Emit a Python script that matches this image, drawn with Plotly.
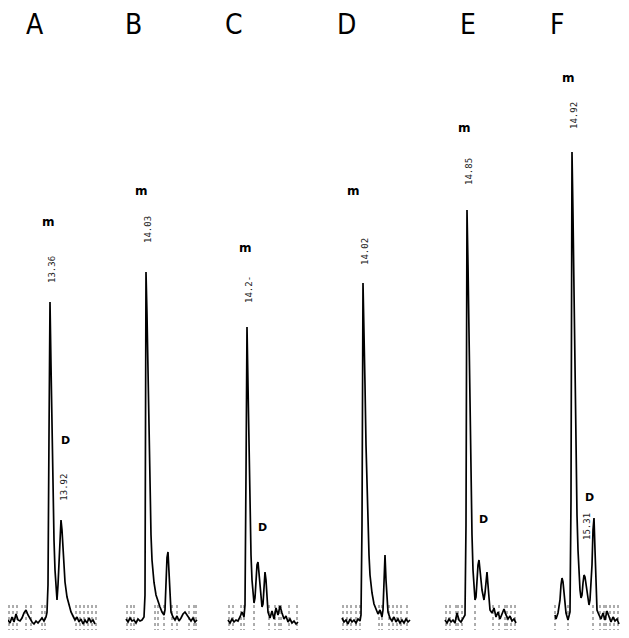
import plotly.graph_objects as go

# ---------------- data (retention time in min, detector signal in arbitrary units) -------------
panel_labels = ["A", "B", "C", "D", "E", "F"]

A_time = [11.26, 11.36, 11.46, 11.56, 11.66, 11.76, 11.86, 11.96, 12.06, 12.16, 12.26, 12.36, 12.46,
          12.56, 12.66, 12.76, 12.86, 12.96, 13.06, 13.16, 13.21, 13.26, 13.31, 13.36, 13.41, 13.46,
          13.51, 13.56, 13.61, 13.66, 13.71, 13.76, 13.81, 13.86, 13.91, 13.96, 14.01, 14.06, 14.11,
          14.21, 14.31, 14.41, 14.51, 14.61, 14.71, 14.81, 14.91, 15.01, 15.11, 15.21, 15.31, 15.41,
          15.51, 15.61]
A_signal = [1.0, 0.4, 1.6, 0.6, 2.2, 1.0, 0.8, 1.4, 2.4, 3.0, 2.0, 1.2, 0.6,
            0.2, 0.8, 0.4, 1.0, 1.4, 0.8, 1.6, 2.5, 8.0, 38.0, 64.6, 52.0, 38.0,
            26.0, 17.0, 11.0, 7.0, 5.0, 8.0, 13.0, 19.0, 21.0, 19.0, 15.0, 11.5, 8.6,
            5.6, 3.8, 2.6, 1.8, 1.0, 1.6, 0.6, 1.2, 0.2, 1.0, 0.4, 1.4, 0.6,
            1.0, 0.2]
A_marks = [11.31, 11.51, 11.71, 12.16, 12.41, 12.96, 13.11, 14.66, 14.86, 15.06, 15.26, 15.46, 15.66]

B_time = [13.03, 13.13, 13.23, 13.33, 13.43, 13.53, 13.63, 13.73, 13.83, 13.93, 13.98, 14.03, 14.08,
          14.13, 14.18, 14.23, 14.28, 14.33, 14.43, 14.53, 14.63, 14.73, 14.83, 14.93, 14.98, 15.03,
          15.08, 15.13, 15.18, 15.23, 15.28, 15.38, 15.48, 15.58, 15.68, 15.78, 15.88, 15.98, 16.08,
          16.18, 16.28, 16.38, 16.48, 16.58]
B_signal = [1.2, 0.6, 1.4, 0.8, 1.0, 0.4, 1.2, 0.8, 1.0, 1.6, 6.0, 70.6, 62.0,
            50.0, 38.0, 27.0, 18.0, 13.0, 8.5, 6.0, 4.6, 3.6, 2.6, 2.0, 3.0, 8.0,
            13.5, 14.6, 10.0, 5.0, 2.6, 1.6, 1.0, 1.8, 0.8, 1.4, 2.2, 2.6, 2.0,
            1.2, 0.8, 1.4, 0.6, 1.0]
B_marks = [13.08, 13.28, 13.43, 14.48, 14.63, 14.93, 15.33, 15.58, 16.18, 16.43, 16.53]

C_time = [13.25, 13.35, 13.45, 13.55, 13.65, 13.75, 13.85, 13.95, 14.05, 14.10, 14.15, 14.20, 14.25,
          14.30, 14.35, 14.40, 14.45, 14.50, 14.55, 14.60, 14.65, 14.70, 14.75, 14.80, 14.85, 14.90,
          14.95, 15.00, 15.05, 15.10, 15.15, 15.20, 15.25, 15.35, 15.45, 15.55, 15.65, 15.75, 15.85,
          15.95, 16.05, 16.15, 16.25, 16.35, 16.45, 16.55, 16.65, 16.75]
C_signal = [1.0, 0.4, 1.2, 0.6, 1.0, 0.8, 1.6, 2.6, 1.6, 4.0, 30.0, 59.6, 48.0,
            34.0, 22.0, 14.0, 9.0, 6.0, 4.4, 5.4, 9.0, 12.0, 12.6, 10.4, 7.0, 4.6,
            3.6, 4.2, 7.6, 10.6, 9.0, 5.0, 2.6, 1.4, 2.8, 1.2, 3.4, 2.0, 3.8,
            2.4, 1.2, 1.8, 0.6, 1.2, 0.4, 0.8, 0.2, 0.6]
C_marks = [13.30, 13.50, 13.90, 14.05, 14.55, 15.30, 15.60, 15.80, 15.90, 16.30, 16.70]

D_time = [12.97, 13.07, 13.17, 13.27, 13.37, 13.47, 13.57, 13.67, 13.77, 13.87, 13.92, 13.97, 14.02,
          14.07, 14.12, 14.17, 14.22, 14.27, 14.32, 14.37, 14.47, 14.57, 14.67, 14.77, 14.87, 14.97,
          15.02, 15.07, 15.12, 15.17, 15.22, 15.27, 15.37, 15.47, 15.57, 15.67, 15.77, 15.87, 15.97,
          16.07, 16.17, 16.27, 16.37]
D_signal = [1.4, 0.6, 1.0, 0.2, 1.2, 0.6, 1.0, 0.4, 1.2, 0.8, 2.0, 20.0, 68.4,
            60.0, 48.0, 36.0, 27.0, 20.0, 14.0, 10.0, 6.4, 4.2, 3.0, 2.2, 3.0, 1.6,
            3.0, 9.0, 14.0, 9.0, 5.0, 2.6, 1.4, 0.8, 1.6, 0.6, 1.2, 0.4, 1.0,
            0.4, 1.2, 0.6, 1.0]
D_marks = [13.02, 13.22, 13.42, 13.67, 13.87, 14.82, 14.97, 15.32, 15.52, 15.72, 15.92, 16.22]

E_time = [13.75, 13.85, 13.95, 14.05, 14.15, 14.25, 14.35, 14.45, 14.55, 14.65, 14.75, 14.80, 14.85,
          14.90, 14.95, 15.00, 15.05, 15.10, 15.15, 15.20, 15.25, 15.30, 15.35, 15.40, 15.45, 15.50,
          15.55, 15.60, 15.65, 15.70, 15.75, 15.80, 15.85, 15.90, 15.95, 16.00, 16.10, 16.20, 16.30,
          16.40, 16.50, 16.60, 16.70, 16.80, 16.90, 17.00, 17.10, 17.20, 17.30]
E_signal = [1.0, 0.4, 1.2, 0.6, 1.0, 0.4, 2.4, 1.0, 0.6, 1.2, 2.0, 20.0, 83.0,
            72.0, 56.0, 40.0, 27.0, 18.0, 11.0, 7.0, 5.0, 5.6, 9.0, 12.0, 13.0, 11.5,
            9.0, 7.0, 5.4, 5.0, 6.4, 9.0, 10.6, 8.0, 4.6, 3.0, 2.4, 3.4, 1.6,
            2.6, 1.2, 2.2, 3.2, 2.0, 1.2, 1.8, 0.8, 1.2, 0.4]
E_marks = [13.80, 14.00, 14.30, 14.40, 14.60, 15.25, 16.15, 16.45, 16.75, 16.85, 17.05, 17.25]

F_time = [14.41, 14.44, 14.50, 14.56, 14.59, 14.62, 14.65, 14.68, 14.74, 14.80, 14.86, 14.89, 14.92,
          14.95, 14.98, 15.01, 15.04, 15.07, 15.10, 15.13, 15.16, 15.19, 15.22, 15.25, 15.28, 15.31,
          15.34, 15.40, 15.43, 15.46, 15.52, 15.55, 15.58, 15.61, 15.64, 15.67, 15.73, 15.79, 15.85,
          15.91, 15.97, 16.03, 16.09, 16.15, 16.21, 16.27, 16.33]
F_signal = [2.0, 1.2, 2.4, 5.0, 8.0, 9.4, 8.6, 6.0, 2.4, 1.0, 2.6, 25.0, 94.6,
            82.0, 64.0, 46.0, 32.0, 22.0, 15.0, 10.0, 7.0, 5.4, 6.0, 8.4, 10.0, 9.6,
            8.0, 5.0, 4.0, 5.0, 12.0, 19.0, 21.4, 15.0, 6.0, 3.0, 2.0, 1.2, 2.4,
            1.0, 2.8, 1.6, 0.6, 1.6, 0.8, 1.2, 0.2]
F_marks = [14.41, 14.80, 15.55, 15.76, 15.88, 15.94, 16.06, 16.18, 16.30]

main_peak_time = [13.36, 14.03, 14.20, 14.02, 14.85, 14.92]
main_peak_label = ["13.36", "14.03", "14.2-", "14.02", "14.85", "14.92"]
d_peak_time = [13.92, None, 14.75, None, 15.45, 15.31]
d_peak_label = ["13.92", None, None, None, None, "15.31"]

times = [A_time, B_time, C_time, D_time, E_time, F_time]
signals = [A_signal, B_signal, C_signal, D_signal, E_signal, F_signal]
marks = [A_marks, B_marks, C_marks, D_marks, E_marks, F_marks]

# ---------------- layout ----------------------------------------------------------------------
# The page body has an 8 px default margin, so the figure is drawn 8 px in from the window edge.
OFF = 8
W, H = 613, 622
domains_px = [(8, 100), (118, 205), (222, 305), (335, 415), (440, 522), (548, 621)]
x_ranges = [(11.26, 15.86), (12.63, 16.98), (12.95, 17.10), (12.62, 16.62), (13.50, 17.60), (14.20, 16.39)]
y_range = (-1.0, 123.4)
letter_px = [(35, 25), (133, 25), (234, 25), (346, 25), (468, 25), (557, 25)]
m_level = [80.6, 86.8, 75.4, 86.8, 99.4, 109.4]
m_shift = [-2, -5, -2, -10, -3, -4]
rt_level = [71.0, 79.0, 67.0, 74.6, 90.6, 101.8]
d_level = [37.0, None, 19.6, None, 21.2, 25.6]
d_rt_level = [27.5, None, None, None, None, 19.6]

fig = go.Figure()
annotations = []
layout_axes = {}

for i in range(6):
    ax = "x" if i == 0 else f"x{i+1}"
    axname = "xaxis" if i == 0 else f"xaxis{i+1}"
    layout_axes[axname] = dict(domain=[(domains_px[i][0] - OFF) / W, (domains_px[i][1] - OFF) / W],
                               range=list(x_ranges[i]), visible=False, anchor="y",
                               fixedrange=True)
    mx, my = [], []
    for t in marks[i]:
        mx += [t, t, None]
        my += [-2.6, 4.0, None]
    fig.add_trace(go.Scatter(x=mx, y=my, xaxis=ax, yaxis="y", mode="lines",
                             line=dict(color="#5a5a5a", width=1.0, dash="dot"),
                             hoverinfo="skip", cliponaxis=False))
    fig.add_trace(go.Scatter(x=times[i], y=signals[i], xaxis=ax, yaxis="y", mode="lines",
                             line=dict(color="black", width=1.7), hoverinfo="skip"))

    annotations.append(dict(x=(letter_px[i][0] - OFF) / W, y=1 - (letter_px[i][1] - OFF) / H,
                            xref="paper", yref="paper", xanchor="center", yanchor="middle",
                            text=panel_labels[i], showarrow=False,
                            font=dict(family="Liberation Sans Narrow, DejaVu Sans Condensed, Arial",
                                      size=28, color="black")))
    annotations.append(dict(x=main_peak_time[i], y=m_level[i], xref=ax, yref="y", text="<b>m</b>",
                            showarrow=False, xshift=m_shift[i], xanchor="center", yanchor="middle",
                            font=dict(family="DejaVu Sans", size=12, color="black")))
    annotations.append(dict(x=main_peak_time[i], y=rt_level[i], xref=ax, yref="y",
                            text=main_peak_label[i], textangle=-90, showarrow=False, xshift=2,
                            xanchor="center", yanchor="middle",
                            font=dict(family="DejaVu Sans Mono", size=9, color="#222")))
    if d_peak_time[i] is not None:
        annotations.append(dict(x=d_peak_time[i], y=d_level[i], xref=ax, yref="y", text="<b>D</b>",
                                showarrow=False, xshift=4, xanchor="center", yanchor="middle",
                                font=dict(family="DejaVu Sans", size=11, color="black")))
        if d_peak_label[i] is not None:
            annotations.append(dict(x=d_peak_time[i], y=d_rt_level[i], xref=ax, yref="y",
                                    text=d_peak_label[i], textangle=-90, showarrow=False, xshift=2,
                                    xanchor="center", yanchor="middle",
                                    font=dict(family="DejaVu Sans Mono", size=9, color="#222")))

fig.update_layout(
    width=W, height=H, margin=dict(l=0, r=0, t=0, b=0),
    paper_bgcolor="white", plot_bgcolor="white", showlegend=False,
    yaxis=dict(domain=[0, 1], range=list(y_range), visible=False, fixedrange=True),
    annotations=annotations, **layout_axes,
)

fig.write_html("out.html")
